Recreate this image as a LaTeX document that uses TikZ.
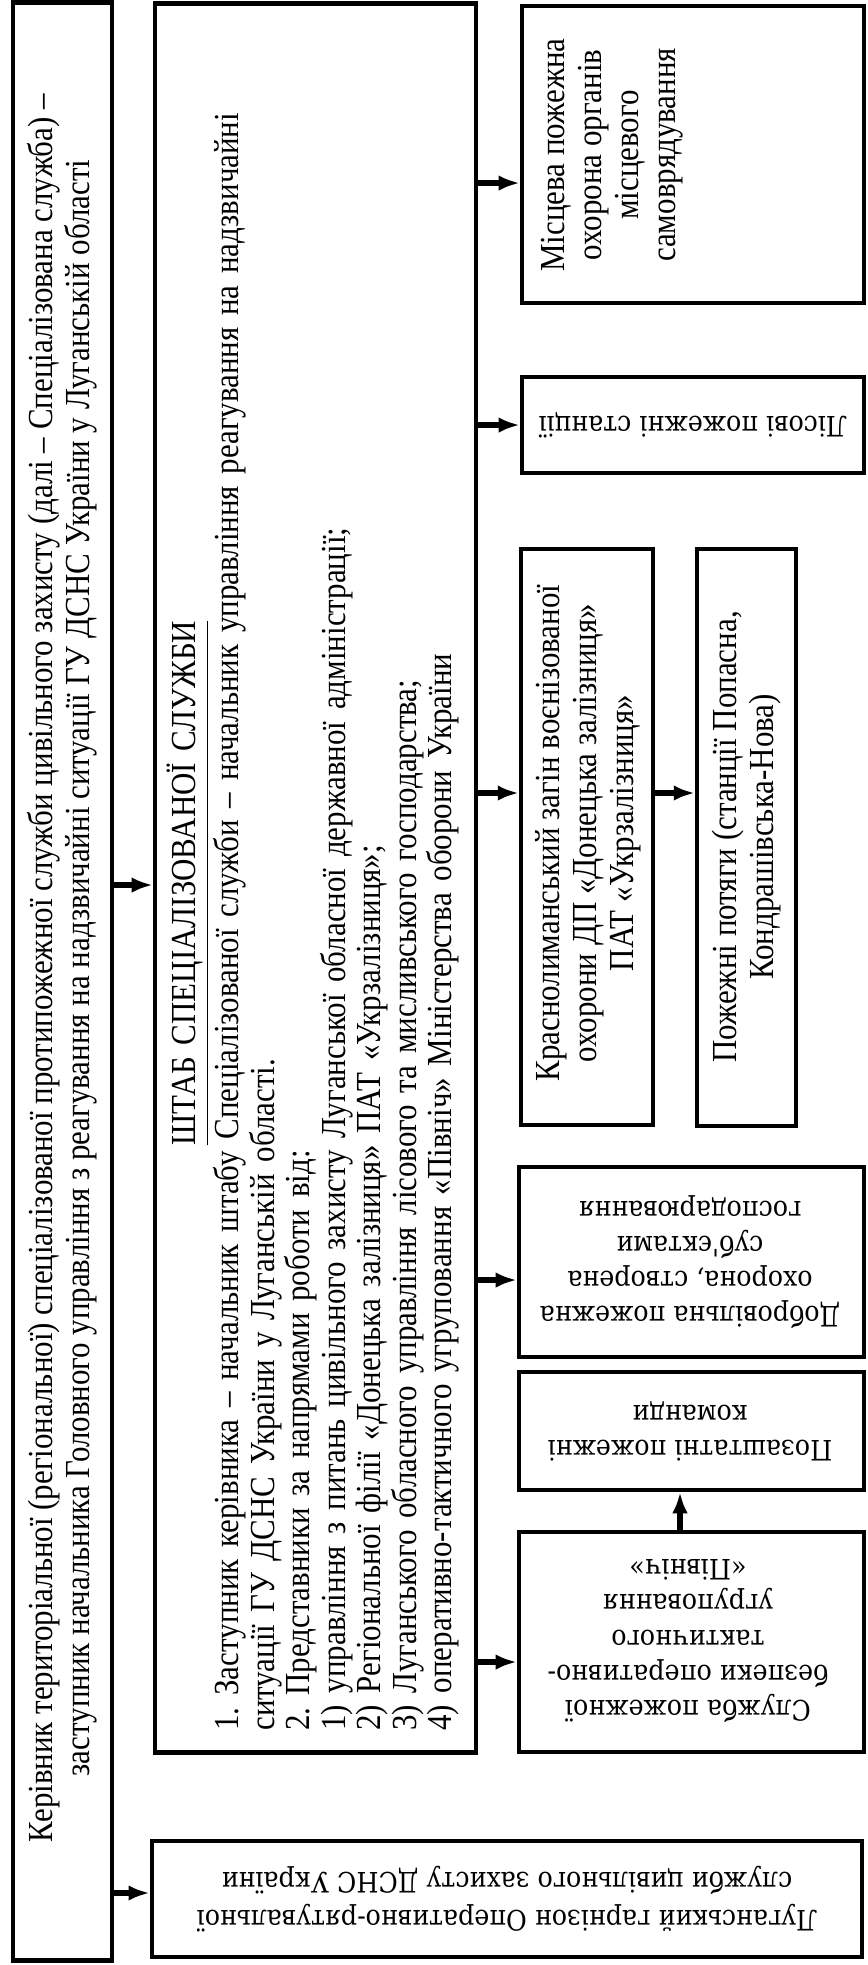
\documentclass[tikz,border=0pt]{standalone}
\usepackage{fontspec}
\setmainfont{Liberation Serif}
\newfontfamily\narrowserif{Liberation Serif}[FakeStretch=0.88]
\newfontfamily\wideserif{DejaVu Serif}[FakeStretch=0.9]
\usetikzlibrary{arrows.meta}
\frenchspacing
\tikzset{
  box/.style={draw, line width=1.2pt, inner sep=0pt},
  upright/.style={rotate=90, inner sep=0pt, align=center,
    font=\narrowserif\fontsize{10}{10.5}\selectfont},
  upside/.style={rotate=180, inner sep=0pt, align=center,
    font=\wideserif\fontsize{8}{10}\selectfont},
  arr/.style={-{Latex[length=6pt,width=4.4pt]}, line width=1.5pt}
}
\begin{document}
\begin{tikzpicture}[x=0.01cm,y=-0.01cm]
  \useasboundingbox (0,0) rectangle (868,1965);
  \fill[white] (0,0) rectangle (868,1965);
  % boxes
  \node[box, minimum width=0.99cm, minimum height=19.57cm] (lbox) at (62.5,981.5) {};
  \node[box, minimum width=3.21cm, minimum height=17.48cm] (mid) at (315.5,878) {};
  \node[box, minimum width=3.42cm, minimum height=2.97cm] (loc) at (693,154.5) {};
  \node[box, minimum width=3.42cm, minimum height=0.96cm] (les) at (693,425) {};
  \node[box, minimum width=1.32cm, minimum height=5.76cm] (kras) at (587,837) {};
  \node[box, minimum width=0.99cm, minimum height=5.77cm] (potyag) at (746.5,837.5) {};
  \node[box, minimum width=3.45cm, minimum height=1.90cm] (dobr) at (691.5,1262) {};
  \node[box, minimum width=3.45cm, minimum height=1.18cm] (poz) at (691.5,1431) {};
  \node[box, minimum width=3.45cm, minimum height=2.20cm] (sluzh) at (691.5,1642) {};
  \node[box, minimum width=7.10cm, minimum height=1.16cm] (lug) at (507,1899) {};
  % texts
  \node[upright] (ltext) at (62,968) {Керівник територіальної (регіональної) спеціалізованої протипожежної служби цивільного захисту (далі – Спеціалізована служба) –\\
    заступник начальника Головного управління з реагування на надзвичайні ситуації ГУ ДСНС України у Луганській області};
  \node[upright, align=left, text width=16.94cm,
    font=\narrowserif\fontsize{10}{10.1}\selectfont] (mtext) at (313,883) {%
    \makebox[\linewidth]{\underline{ШТАБ СПЕЦІАЛІЗОВАНОЇ СЛУЖБИ}}\\
    \makebox[\linewidth][s]{1. Заступник керівника – начальник штабу Спеціалізованої служби – начальник управління реагування на надзвичайні}\\
    ситуації ГУ ДСНС України у Луганській області.\\
    2. Представники за напрямами роботи від:\\
    1) управління з питань цивільного захисту Луганської обласної державної адміністрації;\\
    2) Регіональної філії «Донецька залізниця» ПАТ «Укрзалізниця»;\\
    3) Луганського обласного управління лісового та мисливського господарства;\\
    4) оперативно-тактичного угруповання «Північ» Міністерства оборони України};
  \node[upright] (loctext) at (612,155) {Місцева пожежна\\охорона органів\\місцевого\\самоврядування};
  \node[upright] (krastext) at (588,833) {Краснолиманський загін воєнізованої\\охорони ДП «Донецька залізниця»\\ПАТ «Укрзалізниця»};
  \node[upright] (potyagtext) at (747,837) {Пожежні потяги (станції Попасна,\\Кондрашівська-Нова)};
  \node[upside] (lestext) at (693,425) {Лісові пожежні станції};
  \node[upside] (dobrtext) at (690,1262) {Добровільна пожежна\\охорона, створена\\суб'єктами\\господарювання};
  \node[upside] (poztext) at (690,1431) {Позаштатні пожежні\\команди};
  \node[upside] (sluzhtext) at (688,1641) {Служба пожежної\\безпеки оперативно-\\тактичного\\угруповання\\«Північ»};
  \node[upside, font=\wideserif\fontsize{8}{10.8}\selectfont] (lugtext) at (507,1899) {Луганський гарнізон Оперативно-рятувальної\\служби цивільного захисту ДСНС України};
  % arrow levels
  \coordinate (amid) at (0,885);
  \coordinate (alug) at (0,1893);
  \coordinate (aloc) at (0,183);
  \coordinate (ales) at (0,425);
  \coordinate (akras) at (0,793);
  \coordinate (adobr) at (0,1280);
  \coordinate (asluzh) at (0,1662);
  \coordinate (aup) at (680,0);
  \begin{scope}[arr]
    \draw (lbox.east |- amid) -- (mid.west |- amid);
    \draw (lbox.east |- alug) -- (lug.west |- alug);
    \draw (mid.east |- aloc) -- (loc.west |- aloc);
    \draw (mid.east |- ales) -- (les.west |- ales);
    \draw (mid.east |- akras) -- (kras.west |- akras);
    \draw (kras.east |- akras) -- (potyag.west |- akras);
    \draw (mid.east |- adobr) -- (dobr.west |- adobr);
    \draw (mid.east |- asluzh) -- (sluzh.west |- asluzh);
    \draw (sluzh.north -| aup) -- (poz.south -| aup);
  \end{scope}
\end{tikzpicture}
\end{document}
